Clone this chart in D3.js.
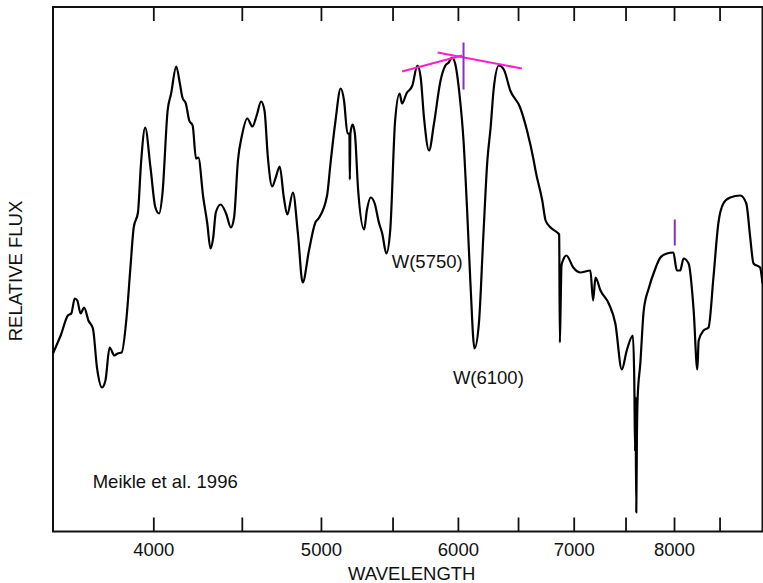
<!DOCTYPE html>
<html>
<head>
<meta charset="utf-8">
<script src="https://cdn.jsdelivr.net/npm/d3@7"></script>
<style>
  body { margin: 0; background: #fff; }
  text { font-family: "Liberation Sans", Arial, Helvetica, sans-serif; fill: #111; }
</style>
</head>
<body>
<svg width="763" height="583"></svg>
<script>
// spectrum: wavelength (A) and relative flux
const wavelength = [3500, 3520, 3536, 3570, 3586, 3603, 3615, 3631, 3648, 3669, 3691, 3711, 3736, 3753, 3774, 3798, 3814, 3835, 3860, 3880,
  3897, 3919, 3935, 3957, 3985, 4011, 4031, 4049, 4077, 4096, 4124, 4144, 4158, 4177, 4196, 4215, 4234, 4247, 4275, 4298,
  4316, 4332, 4347, 4375, 4407, 4435, 4454, 4477, 4501, 4533, 4564, 4590, 4617, 4638, 4659, 4686, 4708, 4733, 4759, 4781,
  4817, 4849, 4880, 4921, 4963, 4984, 5041, 5064, 5098, 5133, 5156, 5180, 5193, 5196, 5200, 5215, 5231, 5254, 5296, 5315,
  5343, 5371, 5401, 5425, 5455, 5483, 5519, 5552, 5570, 5603, 5647, 5685, 5710, 5735, 5774, 5812, 5863, 5901, 5927, 5953,
  5978, 6012, 6045, 6073, 6101, 6134, 6170, 6206, 6240, 6267, 6294, 6336, 6378, 6433, 6518, 6578, 6637, 6653, 6713, 6743,
  6788, 6848, 6866, 6872, 6880, 6887, 6908, 6932, 6996, 7061, 7157, 7183, 7206, 7254, 7334, 7399, 7463, 7512, 7574, 7588,
  7596, 7600, 7608, 7614, 7622, 7649, 7684, 7735, 7804, 7856, 7925, 7993, 8030, 8066, 8102, 8157, 8212, 8252, 8267, 8321,
  8376, 8431, 8486, 8543, 8621, 8738, 8808, 8854, 8893, 8971, 9000];
const flux = [1.78, 1.88, 1.96, 2.16, 2.18, 2.33, 2.31, 2.18, 2.24, 2.11, 2.03, 1.64, 1.44, 1.51, 1.84, 1.76, 1.78, 1.79, 2.14, 2.64,
  3.04, 3.19, 3.68, 4.04, 3.64, 3.24, 3.18, 3.38, 4.21, 4.38, 4.65, 4.48, 4.34, 4.28, 4.11, 4.06, 3.73, 3.74, 3.34, 3.08,
  2.83, 2.94, 3.19, 3.27, 3.18, 3.04, 3.14, 3.71, 3.96, 4.13, 4.05, 4.16, 4.30, 4.21, 3.74, 3.45, 3.54, 3.65, 3.34, 3.17,
  3.39, 2.98, 2.49, 2.81, 3.09, 3.13, 3.36, 3.68, 4.11, 4.43, 4.31, 3.98, 3.98, 3.52, 3.98, 4.07, 3.98, 3.41, 3.02, 3.21,
  3.34, 3.28, 3.09, 2.98, 2.78, 3.01, 4.11, 4.38, 4.28, 4.38, 4.46, 4.66, 4.54, 4.14, 3.81, 4.08, 4.51, 4.66, 4.69, 4.74,
  4.68, 4.38, 3.91, 3.24, 2.48, 1.83, 2.08, 2.94, 3.71, 4.04, 4.44, 4.66, 4.62, 4.41, 4.24, 4.01, 3.71, 3.61, 3.31, 3.11,
  3.04, 2.99, 2.97, 1.89, 2.31, 2.66, 2.73, 2.76, 2.64, 2.59, 2.61, 2.31, 2.54, 2.41, 2.28, 2.08, 1.62, 1.81, 1.96, 1.50,
  0.80, 1.35, 0.19, 0.90, 1.34, 1.68, 2.21, 2.43, 2.63, 2.74, 2.78, 2.79, 2.61, 2.61, 2.73, 2.68, 2.21, 1.62, 1.91, 2.01,
  2.04, 2.54, 3.08, 3.28, 3.34, 3.36, 3.28, 2.94, 2.68, 2.64, 2.48];

const tickValues = [4000, 4500, 5000, 5500, 6000, 6500, 7000, 7500, 8000, 8500];
const tickLabels = [4000, 5000, 6000, 7000, 8000];

// continuum lines (magenta) and line markers (purple)
const fitLines = [
  { w1: 5570, f1: 4.60, w2: 6034, f2: 4.76 },
  { w1: 5840, f1: 4.79, w2: 6533, f2: 4.63 }
];
const markers = [
  { w: 6045, hi: 4.89, lo: 4.42 },
  { w: 8008, hi: 3.12, lo: 2.86 }
];
const notes = [
  { text: 'W(5750)', w: 5494, f: 2.64 },
  { text: 'W(6100)', w: 5960, f: 1.48 },
  { text: 'Meikle et al. 1996', w: 3690, f: 0.44 }
];

const svg = d3.select('svg');
const plotLeft = 53, plotRight = 762.5, plotTop = 7, plotBottom = 531.5;

const x = d3.scaleLog().domain([3500, 9000]).range([plotLeft, plotRight]);
const y = d3.scaleLinear().domain([0, 5.245]).range([plotBottom, plotTop]);

// frame
svg.append('rect')
  .attr('x', plotLeft).attr('y', plotTop)
  .attr('width', plotRight - plotLeft).attr('height', plotBottom - plotTop)
  .attr('fill', 'none').attr('stroke', '#111').attr('stroke-width', 2);

// bottom axis, ticks pointing inward
svg.append('g')
  .attr('transform', `translate(0,${plotBottom})`)
  .call(d3.axisBottom(x).tickValues(tickValues).tickSizeInner(-14).tickSizeOuter(0)
    .tickFormat(d => tickLabels.includes(d) ? d : ''))
  .call(g => g.select('.domain').remove())
  .call(g => g.selectAll('line').attr('stroke', '#111').attr('stroke-width', 1.8))
  .call(g => g.selectAll('text').attr('y', 11).attr('dy', '0.71em')
    .style('font-size', '18.5px').style('font-family', '"Liberation Sans", Arial, sans-serif').attr('fill', '#111'));

// top axis, ticks only
svg.append('g')
  .attr('transform', `translate(0,${plotTop})`)
  .call(d3.axisTop(x).tickValues(tickValues).tickSizeInner(-14).tickSizeOuter(0).tickFormat(''))
  .call(g => g.select('.domain').remove())
  .call(g => g.selectAll('line').attr('stroke', '#111').attr('stroke-width', 1.8));

// spectrum
const line = d3.line()
  .x(d => x(d[0]))
  .y(d => y(d[1]))
  .curve(d3.curveMonotoneX);

svg.append('path')
  .datum(d3.zip(wavelength, flux))
  .attr('d', line)
  .attr('fill', 'none')
  .attr('stroke', '#000')
  .attr('stroke-width', 2.2)
  .attr('stroke-linejoin', 'round');

svg.selectAll('.fit')
  .data(fitLines)
  .join('line')
  .attr('class', 'fit')
  .attr('x1', d => x(d.w1)).attr('y1', d => y(d.f1))
  .attr('x2', d => x(d.w2)).attr('y2', d => y(d.f2))
  .attr('stroke', '#ff1ccc').attr('stroke-width', 2);

svg.selectAll('.marker')
  .data(markers)
  .join('line')
  .attr('class', 'marker')
  .attr('x1', d => x(d.w)).attr('x2', d => x(d.w))
  .attr('y1', d => y(d.hi)).attr('y2', d => y(d.lo))
  .attr('stroke', '#8030d0').attr('stroke-width', 2);

svg.selectAll('.note')
  .data(notes)
  .join('text')
  .attr('class', 'note')
  .attr('x', d => x(d.w))
  .attr('y', d => y(d.f))
  .style('font-size', '18.5px')
  .text(d => d.text);

// axis titles
svg.append('text')
  .attr('x', (plotLeft + plotRight) / 2 + 4)
  .attr('y', 580)
  .attr('text-anchor', 'middle')
  .style('font-size', '18.5px')
  .text('WAVELENGTH');

svg.append('text')
  .attr('transform', 'translate(22,271) rotate(-90)')
  .attr('text-anchor', 'middle')
  .style('font-size', '18.5px')
  .text('RELATIVE FLUX');
</script>
</body>
</html>
